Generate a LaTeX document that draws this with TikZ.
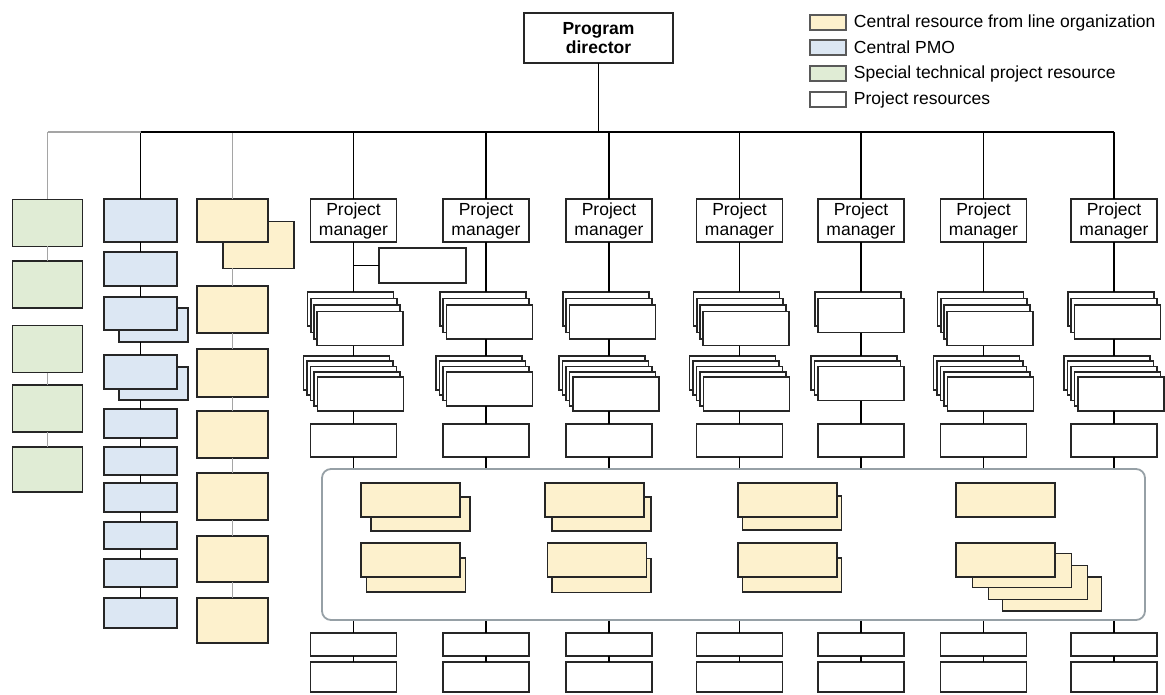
\documentclass[tikz,border=0pt]{standalone}
\usepackage{fontspec}
\setmainfont{Liberation Sans}
\usetikzlibrary{positioning}
\definecolor{ylw}{RGB}{253,241,205}
\definecolor{blu}{RGB}{220,231,243}
\definecolor{grn}{RGB}{224,236,213}
\definecolor{lgry}{RGB}{165,165,165}
\definecolor{poolc}{RGB}{150,160,166}
\begin{document}
\begin{tikzpicture}[x=1pt,y=-1pt,line width=1.8pt,font=\fontsize{17.5}{20}\selectfont]
\tikzstyle{bx}=[draw=black!85,inner sep=0pt,outer sep=0pt,fill=white]
\tikzstyle{pbox}=[bx,minimum width=86pt,minimum height=43pt,align=center]
\tikzstyle{sbox}=[bx,minimum width=86pt,minimum height=34pt]
\tikzstyle{gbox}=[bx,fill=grn,minimum width=70pt,minimum height=47pt]
\tikzstyle{pmo}=[bx,fill=blu,minimum width=73pt]
\tikzstyle{lin}=[bx,fill=ylw,minimum width=71pt,minimum height=47pt]
\tikzstyle{qbox}=[bx,fill=ylw,minimum width=99pt,minimum height=34pt]
\tikzstyle{swatch}=[bx,line width=1.2pt,draw=black!65,minimum width=36pt,minimum height=15pt]
\tikzstyle{gl}=[draw=lgry]
\useasboundingbox (0,0) rectangle (1165,695);
\coordinate (bus) at (0,132);
% top
\node[bx,minimum width=149pt,minimum height=50pt,align=center,font=\fontsize{17.5}{19}\selectfont\bfseries] (pd) at (598.5,38) {Program\\director};
\node[swatch,fill=ylw] (k1) at (828,22.5) {}; \node[right=7pt of k1,inner sep=0pt] (t1) {Central resource from line organization};
\node[swatch,fill=blu] (k2) at (828,47.5) {}; \node[right=7pt of k2,inner sep=0pt] (t2) {Central PMO};
\node[swatch,fill=grn] (k3) at (828,73.5) {}; \node[right=7pt of k3,inner sep=0pt] (t3) {Special technical project resource};
\node[swatch] (k4) at (828,99.5) {}; \node[right=7pt of k4,inner sep=0pt] (t4) {Project resources};
% special technical resources
\node[gbox] (g1) at (47.5,223) {}; \node[gbox] (g2) at (47.5,284.5) {}; \node[gbox] (g3) at (47.5,349) {};
\node[gbox] (g4) at (47.5,408.5) {}; \node[gbox,minimum height=45pt] (g5) at (47.5,469.5) {};
\draw[gl] (g1 |- bus) -- (g1); \draw[gl] (g1) -- (g2); \draw[gl] (g3) -- (g4); \draw[gl] (g4) -- (g5);
% central PMO
\node[pmo,minimum height=43pt] (b1) at (140.5,220.5) {}; \node[pmo,minimum height=34pt] (b2) at (140.5,269) {};
\node[pmo,minimum width=69pt,minimum height=34pt] (b3s) at (153.5,325) {}; \node[pmo,minimum height=33pt] (b3) at (140.5,313.5) {};
\node[pmo,minimum width=69pt,minimum height=33pt] (b4s) at (153.5,383.5) {}; \node[pmo,minimum height=34pt] (b4) at (140.5,372) {};
\node[pmo,minimum height=29pt] (b5) at (140.5,423.5) {}; \node[pmo,minimum height=28pt] (b6) at (140.5,461) {};
\node[pmo,minimum height=29pt] (b7) at (140.5,497.5) {}; \node[pmo,minimum height=27pt] (b8) at (140.5,535.5) {};
\node[pmo,minimum height=28pt] (b9) at (140.5,573) {}; \node[pmo,minimum height=30pt] (b10) at (140.5,613) {};
\draw (b1 |- bus) -- (b1); \draw (b3s.south -| b3) -- (b4); \draw (b4s.south -| b4) -- (b5);
\foreach \a/\b in {b1/b2,b2/b3,b5/b6,b6/b7,b7/b8,b8/b9,b9/b10} \draw (\a) -- (\b);
% line organization
\node[lin] (y1s) at (258.5,245) {}; \node[lin,minimum height=43pt] (y1) at (232.5,220.5) {};
\node[lin] (y2) at (232.5,309.5) {}; \node[lin,minimum height=48pt] (y3) at (232.5,373) {};
\node[lin] (y4) at (232.5,434.5) {}; \node[lin] (y5) at (232.5,496.5) {};
\node[lin,minimum height=46pt] (y6) at (232.5,559) {}; \node[lin,minimum height=45pt] (y7) at (232.5,620.5) {};
\draw[gl] (y1 |- bus) -- (y1); \draw[gl] (y1s.south -| y1) -- (y2);
\foreach \a/\b in {y2/y3,y3/y4,y4/y5,y5/y6,y6/y7} \draw[gl] (\a) -- (\b);
% shared pool
\node[draw=poolc,rounded corners=9pt,minimum width=823pt,minimum height=151pt] (pool) at (733.5,544.5) {};
% projects
\foreach \i/\x/\p/\q in {1/353.5/4/5,2/486/3/4,3/609/3/5,4/739.5/4/5,5/861/2/3,6/983.5/4/5,7/1114/3/5}{
  \node[pbox] (pm\i) at (\x,220.5) {Project\\manager};
  \draw (pm\i |- bus) -- (pm\i);
  \foreach \k in {1,...,\p} \node[sbox] (u\i-\k) at ({\x-3+3.2*(\k-1)},{309+6.5*(\k-1)}) {};
  \foreach \k in {1,...,\q} \node[sbox] (l\i-\k) at ({\x-7+3.5*(\k-1)},{373+5.25*(\k-1)}) {};
  \node[sbox,minimum height=33pt] (r\i) at (\x,440.5) {};
  \node[sbox,minimum height=23pt] (bt\i) at (\x,644.5) {};
  \node[sbox,minimum height=30pt] (bb\i) at (\x,677) {};
  \draw (pm\i) -- (pm\i |- u\i-1.north);
  \draw (u\i-\p.south -| pm\i) -- (pm\i |- l\i-1.north);
  \draw (l\i-\q.south -| pm\i) -- (r\i);
  \draw (r\i) -- (r\i |- pool.north);
  \draw (bt\i |- pool.south) -- (bt\i); \draw (bt\i) -- (bb\i);
}
\node[sbox,minimum width=87pt,minimum height=35pt] (side) at (422.5,265.5) {};
\draw (side) -- (side -| pm1);
% bus
\draw (pd) -- (pd |- bus); \draw[gl] (g1 |- bus) -- (b1 |- bus); \draw (b1 |- bus) -- (pm7 |- bus);
% line organization resources in the pool
\node[qbox] (q1s) at (420.5,514) {}; \node[qbox] (q1) at (410.5,500) {};
\node[qbox] (q2s) at (416,575) {}; \node[qbox] (q2) at (410.5,560) {};
\node[qbox] (q3s) at (601.5,514) {}; \node[qbox] (q3) at (594.5,500) {};
\node[qbox] (q4s) at (601.5,575.5) {}; \node[qbox] (q4) at (597,560) {};
\node[qbox] (q5s) at (792,513) {}; \node[qbox] (q5) at (787.5,500) {};
\node[qbox] (q6s) at (792,575) {}; \node[qbox] (q6) at (787.5,560) {};
\node[qbox] (q7) at (1005.5,500) {};
\node[qbox] (q8c) at (1052,594) {}; \node[qbox] (q8b) at (1038,582.5) {}; \node[qbox] (q8a) at (1022,570.5) {}; \node[qbox] (q8) at (1005.5,560) {};
\end{tikzpicture}
\end{document}
